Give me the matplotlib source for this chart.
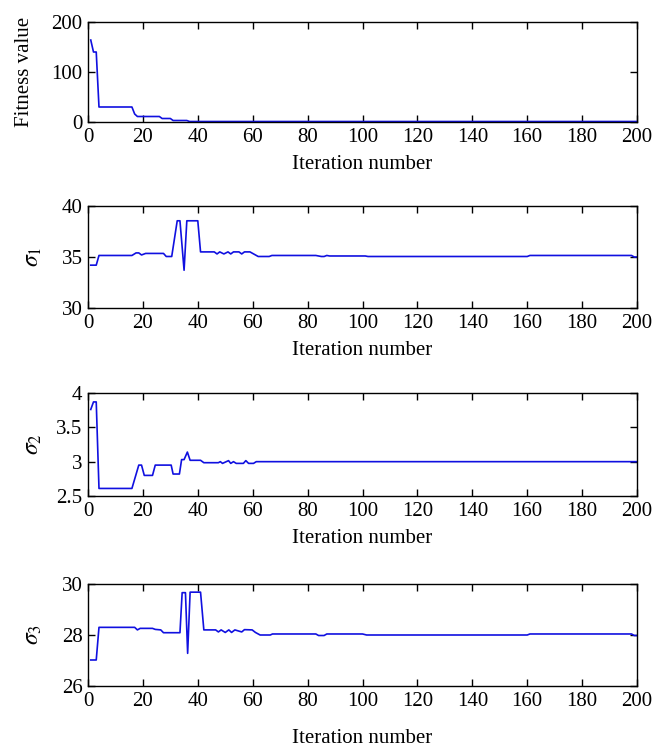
import matplotlib
matplotlib.use("Agg")
import matplotlib.pyplot as plt

plt.rcParams['font.family'] = ['Liberation Serif', 'DejaVu Serif']
plt.rcParams['mathtext.fontset'] = 'stix'

# Fitness value (iteration, value) keypoints
fit_iter = [1, 2, 3, 4, 16, 17, 18, 26, 27, 30, 31, 36, 37, 200]
fit_val = [164, 140, 140, 30, 30, 16, 11, 11, 7, 7, 3, 3, 1, 1]

# sigma_1
s1_iter = [1, 3, 4, 16, 17.5, 18.5, 19.5, 21, 27.5, 28.5, 30.5, 32.5, 33.5, 35, 36, 40, 41,
           46, 47, 48, 49.5, 51, 52, 53, 55, 56, 57, 59, 62, 66, 67, 83, 85, 86, 87, 88,
           101, 102, 160, 161, 198, 199, 200]
s1_val = [34.2, 34.2, 35.15, 35.15, 35.4, 35.4, 35.2, 35.35, 35.35, 35.05, 35.05, 38.55, 38.55,
          33.7, 38.55, 38.55, 35.5, 35.5, 35.3, 35.5, 35.3, 35.5, 35.3, 35.5, 35.5, 35.3, 35.5,
          35.5, 35.05, 35.05, 35.15, 35.15, 35.05, 35.05, 35.15, 35.1, 35.1, 35.05, 35.05,
          35.15, 35.15, 35.0, 35.0]

# sigma_2
s2_iter = [1, 2, 3, 4, 16, 18.5, 19.5, 20.5, 23.5, 24.5, 30.3, 31, 33.3, 34.1, 35, 36.2, 37.2,
           41, 42.2, 47.5, 48.2, 49, 51.2, 52, 53, 54, 56.6, 57.5, 58.5, 60.3, 61.3, 200]
s2_val = [3.76, 3.87, 3.87, 2.61, 2.61, 2.95, 2.95, 2.80, 2.80, 2.95, 2.95, 2.82, 2.82, 3.03,
          3.03, 3.14, 3.02, 3.02, 2.985, 2.985, 3.0, 2.975, 3.015, 2.975, 3.0, 2.975, 2.975,
          3.015, 2.975, 2.975, 3.0, 3.0]

# sigma_3
s3_iter = [1, 3, 4, 17, 18, 19, 23.5, 24.5, 26.5, 27.5, 33.5, 34.3, 35.5, 36.3, 37.2, 41, 42.2,
           46.5, 47.5, 48.5, 50, 51.3, 52.3, 53.5, 56, 57, 59.8, 61, 62.7, 66.4, 67.2, 83,
           84, 86, 87, 100, 101.5, 160, 161, 198, 199, 200]
s3_val = [27.02, 27.02, 28.3, 28.3, 28.2, 28.26, 28.26, 28.22, 28.2, 28.09, 28.09, 29.66, 29.66,
          27.28, 29.68, 29.68, 28.2, 28.2, 28.12, 28.2, 28.1, 28.2, 28.1, 28.2, 28.12, 28.21,
          28.2, 28.1, 28.0, 28.0, 28.04, 28.04, 27.98, 27.98, 28.04, 28.04, 28.0, 28.0, 28.04,
          28.04, 27.98, 27.98]

x_ticks = list(range(0, 201, 20))
panels = [
    (fit_iter, fit_val, 'Fitness value', [0, 200], [0, 100, 200], ['0', '100', '200']),
    (s1_iter, s1_val, r'$\sigma_1$', [30, 40], [30, 35, 40], ['30', '35', '40']),
    (s2_iter, s2_val, r'$\sigma_2$', [2.5, 4], [2.5, 3, 3.5, 4], ['2.5', '3', '3.5', '4']),
    (s3_iter, s3_val, r'$\sigma_3$', [26, 30], [26, 28, 30], ['26', '28', '30']),
]

W, H = 666, 755
fig = plt.figure(figsize=(W / 100, H / 100), dpi=100)
boxes = [(22, 122), (206, 308), (393, 496), (584, 686)]
left, right = 88, 637

for i, ((xs, ys, lab, ylim, yt, ytl), (top, bot)) in enumerate(zip(panels, boxes)):
    ax = fig.add_axes([left / W, 1 - bot / H, (right - left) / W, (bot - top) / H])
    ax.plot(xs, ys, color='#1010e0', lw=1.2)
    ax.set_xlim(0, 200)
    ax.set_ylim(*ylim)
    ax.set_xticks(x_ticks)
    ax.set_yticks(yt)
    ax.set_yticklabels(ytl)
    ax.tick_params(direction='in', top=True, right=True, length=5, width=1,
                   labelsize=15, pad=4, color='black')
    for s in ax.spines.values():
        s.set_linewidth(1.0)
    ax.set_xlabel('Iteration number', fontsize=15, labelpad=(13 if i == 3 else 6))
    if lab.startswith('$'):
        ax.set_ylabel(lab, fontsize=17)
        ax.yaxis.set_label_coords(-0.10, 0.5)
    else:
        ax.set_ylabel(lab, fontsize=15)
        ax.yaxis.set_label_coords(-0.116, 0.5)
    ax.yaxis.label.set_va('center')

fig.savefig('out.png', dpi=100)
